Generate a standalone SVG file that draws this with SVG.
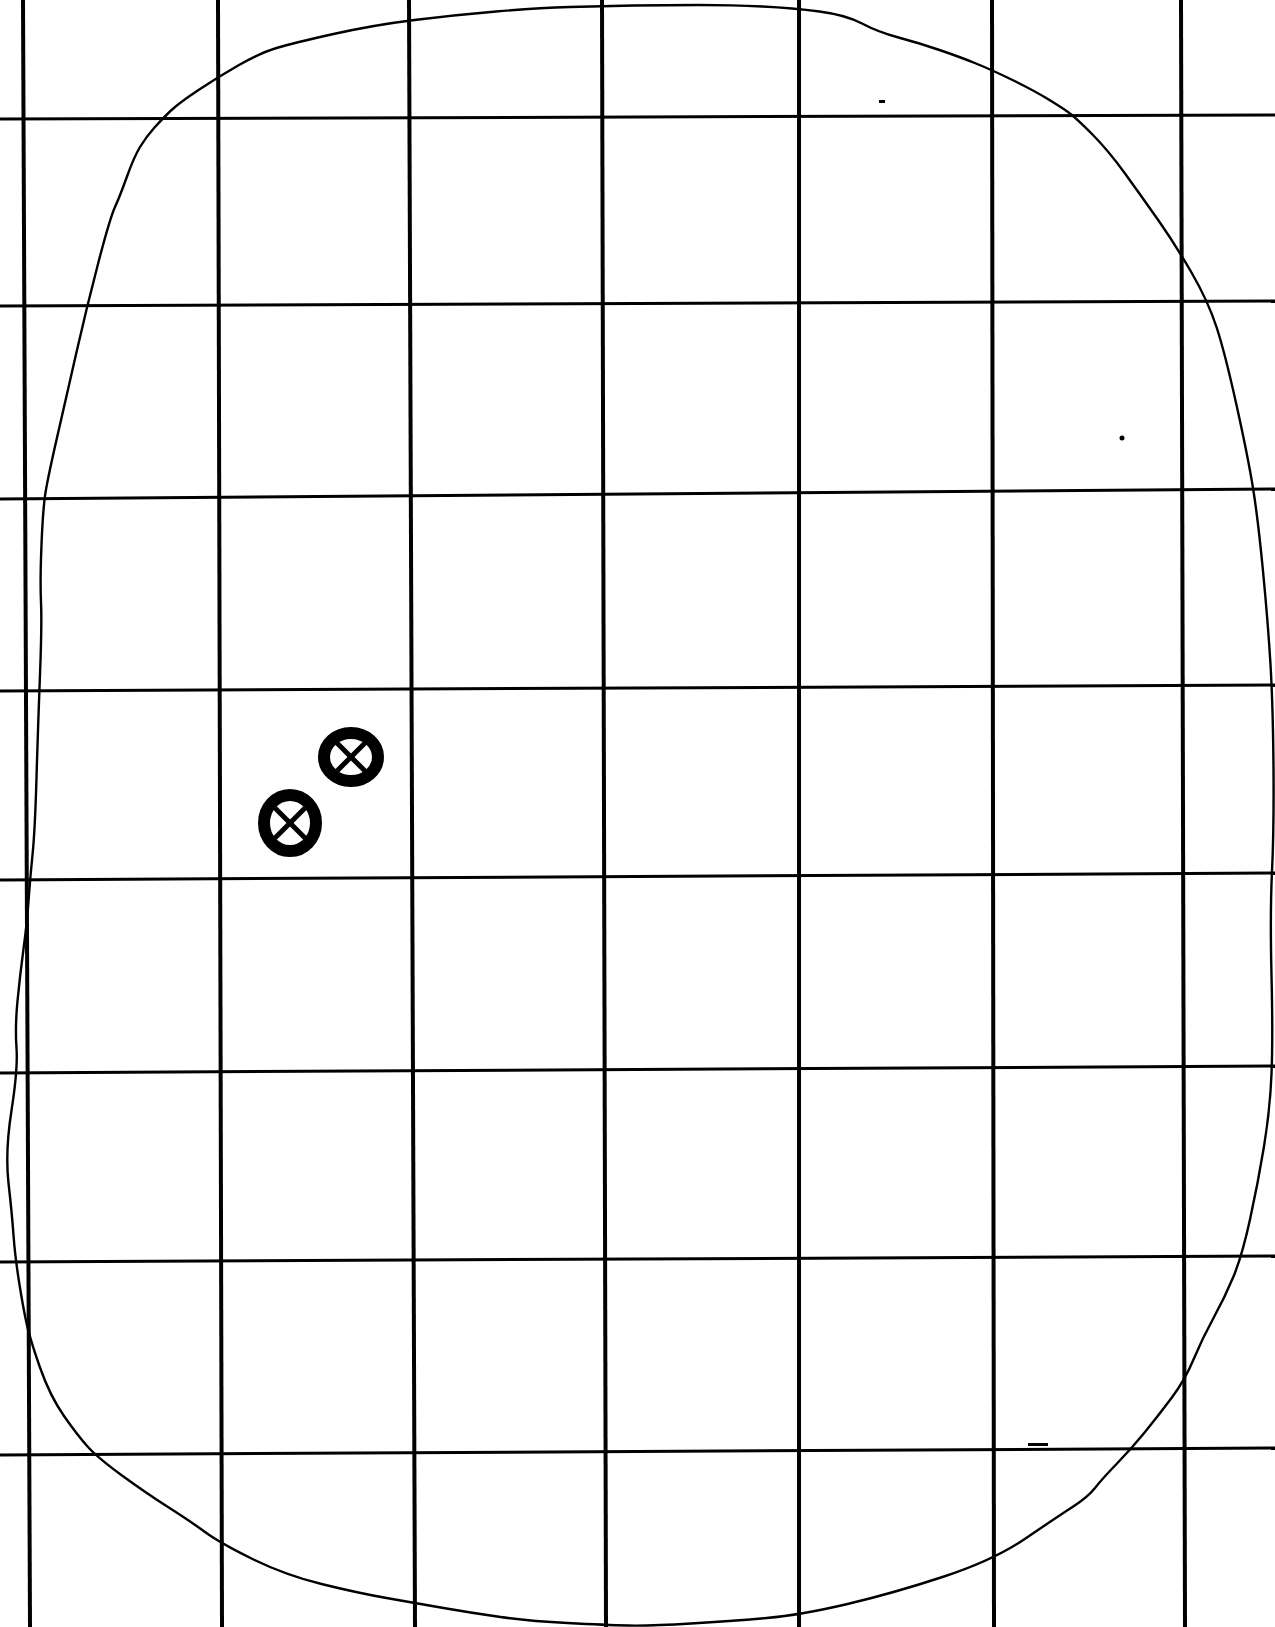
<svg xmlns="http://www.w3.org/2000/svg" width="1275" height="1627" viewBox="0 0 1275 1627">
<style>
.v{stroke:#000;stroke-width:4;fill:none}
.h{stroke:#000;stroke-width:3;fill:none}
.blob{stroke:#000;stroke-width:2.4;fill:none;stroke-linejoin:round;stroke-linecap:round}
.ring{stroke:#000;stroke-width:12;fill:none}
.x{stroke:#000;stroke-width:5;stroke-linecap:butt}
.speck{fill:#000}
</style>
<rect width="1275" height="1627" fill="#fff"/>
<g id="grid">
<line class="v" x1="23" y1="0" x2="30" y2="1627" stroke-width="5"/>
<line class="v" x1="218" y1="0" x2="222" y2="1627"/>
<line class="v" x1="409" y1="0" x2="415" y2="1627"/>
<line class="v" x1="602" y1="0" x2="606" y2="1627"/>
<line class="v" x1="799" y1="0" x2="799" y2="1627"/>
<line class="v" x1="992" y1="0" x2="994" y2="1627"/>
<line class="v" x1="1181" y1="0" x2="1185" y2="1627"/>
<line class="h" x1="0" y1="119" x2="1275" y2="115"/>
<line class="h" x1="0" y1="306" x2="1275" y2="301"/>
<line class="h" x1="0" y1="499" x2="1275" y2="489"/>
<line class="h" x1="0" y1="691" x2="1275" y2="685"/>
<line class="h" x1="0" y1="880" x2="1275" y2="873"/>
<line class="h" x1="0" y1="1073" x2="1275" y2="1066"/>
<line class="h" x1="0" y1="1262" x2="1275" y2="1256"/>
<line class="h" x1="0" y1="1455" x2="1275" y2="1448"/>
</g>
<g id="outline">
<path class="blob" d="M496,11.5 Q537,8 569.5,7 Q602,6 633.5,5.5 Q665,5 698.5,5 Q732,5 762.5,6.5 Q793,8 819.5,11.5 Q846,15 862,23.5 Q878,32 898.5,37.5 Q919,43 939.5,50 Q960,57 976,63.5 Q992,70 1012.5,80 Q1033,90 1047,98.5 Q1061,107 1068,112 Q1075,117 1091.5,133.5 Q1108,150 1125,173.5 Q1142,197 1158.5,220.5 Q1175,244 1191.5,272.5 Q1208,301 1216.5,327 Q1225,353 1236.5,405 Q1248,457 1253,488 Q1258,519 1263,571 Q1268,623 1270.5,664.5 Q1273,706 1273.5,768 Q1274,830 1272,871.5 Q1270,913 1271.5,975.5 Q1273,1038 1271.5,1074 Q1270,1110 1264,1146.5 Q1258,1183 1250,1219.5 Q1242,1256 1233.5,1276.5 Q1225,1297 1213.5,1318 Q1202,1339 1193.5,1359.5 Q1185,1380 1171.5,1398 Q1158,1416 1145,1432 Q1132,1448 1117,1463.5 Q1102,1479 1095,1488 Q1088,1497 1072.5,1507 Q1057,1517 1025.5,1538.5 Q994,1560 944,1576.5 Q894,1593 847.5,1604 Q801,1615 766.5,1618 Q732,1621 691,1623.5 Q650,1626 628,1625.5 Q606,1625 567.5,1623 Q529,1621 500.5,1617 Q472,1613 443.5,1608 Q415,1603 386.5,1598 Q358,1593 321.5,1584 Q285,1575 252.5,1559 Q220,1543 205,1532 Q190,1521 168,1507 Q146,1493 122,1475.5 Q98,1458 88,1447 Q78,1436 64,1416 Q50,1396 40,1367.5 Q30,1339 26.5,1323 Q23,1307 19,1281.5 Q15,1256 13.5,1235 Q12,1214 8.5,1183 Q5,1152 11.5,1110.5 Q18,1069 16.5,1048 Q15,1027 17.5,1001 Q20,975 23.5,949 Q27,923 28.5,901.5 Q30,880 32.5,855 Q35,830 36.5,778 Q38,726 40,674.5 Q42,623 41,602 Q40,581 41.5,544.5 Q43,508 45.5,492.5 Q48,477 57.5,435.5 Q67,394 77,350 Q87,306 98.5,262 Q110,218 115,207 Q120,196 127,176.5 Q134,157 140,147 Q146,137 154.5,127.5 Q163,118 171,110.5 Q179,103 198.5,90 Q218,77 239,65 Q260,53 276.5,48 Q293,43 333.5,34 Q374,25 414.5,20 Q455,15 496,11.5 Z"/>
</g>
<g id="symbol-1">
<ellipse class="ring" cx="351" cy="757" rx="27" ry="24"/>
<line class="x" x1="336" y1="742" x2="366" y2="772"/>
<line class="x" x1="366" y1="742" x2="336" y2="772"/>
</g>
<g id="symbol-2">
<ellipse class="ring" cx="290" cy="823" rx="26" ry="28"/>
<line class="x" x1="275" y1="808" x2="305" y2="838"/>
<line class="x" x1="305" y1="808" x2="275" y2="838"/>
</g>
<g id="specks">
<rect class="speck" x="879" y="100" width="6" height="3"/>
<circle class="speck" cx="1122" cy="438" r="2.5"/>
<rect class="speck" x="1028" y="1443" width="20" height="3"/>
</g>
</svg>
